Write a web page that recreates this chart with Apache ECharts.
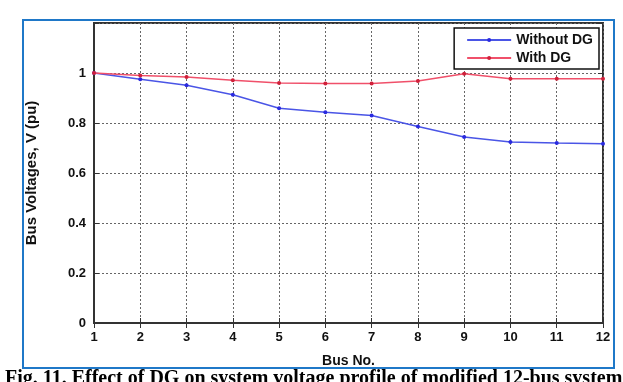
<!DOCTYPE html>
<html>
<head>
<meta charset="utf-8">
<script src="https://cdn.jsdelivr.net/npm/echarts@6/dist/echarts.min.js"></script>
<style>
html,body{margin:0;padding:0;background:#fff;}
#c{width:623px;height:382px;}
</style>
</head>
<body>
<div id="c"></div>
<script>
var buses = ['1','2','3','4','5','6','7','8','9','10','11','12'];
var withoutDG = [1.000, 0.975, 0.951, 0.913, 0.859, 0.843, 0.830, 0.786, 0.744, 0.724, 0.720, 0.717];
var withDG    = [1.000, 0.990, 0.984, 0.971, 0.960, 0.958, 0.958, 0.968, 0.997, 0.977, 0.977, 0.977];
var yTicks = [0, 0.2, 0.4, 0.6, 0.8, 1];
var caption = 'Fig. 11. Effect of DG on system voltage profile of modified 12-bus system';

var chart = echarts.init(document.getElementById('c'), null, {renderer: 'canvas'});
var labelFont = {fontFamily: 'Liberation Sans, Arial', fontWeight: 'bold', fontSize: 13, color: '#111'};
var gridLine = {show: true, lineStyle: {color: '#666', type: [2, 2], width: 1}};

chart.setOption({
  animation: false,
  backgroundColor: '#fff',
  grid: {left: 94, right: 20, top: 23, bottom: 59, show: true, borderColor: '#333', borderWidth: 2, backgroundColor: '#fff'},
  legend: {
    right: 24, top: 28,
    orient: 'vertical',
    backgroundColor: '#fff',
    borderColor: '#111', borderWidth: 1.5, borderRadius: 0,
    padding: [5, 6, 4, 12],
    itemGap: 4,
    itemWidth: 44, itemHeight: 5,
    textStyle: {fontFamily: 'Liberation Sans, Arial', fontWeight: 'bold', fontSize: 14, color: '#111'},
    data: ['Without DG', 'With DG']
  },
  xAxis: [{
    type: 'category', data: buses, boundaryGap: false,
    name: 'Bus No.', nameLocation: 'middle', nameGap: 31,
    nameTextStyle: {fontFamily: 'Liberation Sans, Arial', fontWeight: 'bold', fontSize: 14, color: '#111'},
    axisLine: {show: true, lineStyle: {color: '#333', width: 2}},
    axisTick: {show: true, inside: true, length: 5, lineStyle: {color: '#333'}},
    axisLabel: Object.assign({margin: 8, interval: 0}, labelFont),
    splitLine: {show: true, interval: 0, lineStyle: {color: '#666', type: [2, 2], width: 1}}
  }, {
    type: 'category', data: buses, boundaryGap: false, position: 'top',
    axisLine: {show: false}, axisLabel: {show: false},
    axisTick: {show: true, inside: true, length: 5, interval: 0, lineStyle: {color: '#333'}},
    splitLine: {show: false}
  }],
  yAxis: [{
    type: 'value', min: 0, max: 1.2, interval: 0.2,
    name: 'Bus Voltages, V (pu)', nameLocation: 'middle', nameGap: 55,
    nameTextStyle: {fontFamily: 'Liberation Sans, Arial', fontWeight: 'bold', fontSize: 15, color: '#111'},
    axisLine: {show: true, lineStyle: {color: '#333', width: 2}},
    axisTick: {show: true, inside: true, length: 5, lineStyle: {color: '#333'}},
    axisLabel: Object.assign({margin: 8, formatter: function (v) {
      for (var i = 0; i < yTicks.length; i++) { if (Math.abs(yTicks[i] - v) < 1e-9) return String(yTicks[i]); }
      return '';
    }}, labelFont),
    splitLine: gridLine
  }, {
    type: 'value', min: 0, max: 1.2, interval: 0.2, position: 'right',
    axisLine: {show: false}, axisLabel: {show: false},
    axisTick: {show: true, inside: true, length: 5, lineStyle: {color: '#333'}},
    splitLine: {show: false}
  }],
  series: [{
    name: 'Without DG', type: 'line', data: withoutDG,
    symbol: 'circle', symbolSize: 4, showSymbol: true,
    itemStyle: {color: '#2a2ae0'},
    lineStyle: {color: '#4a55e6', width: 1.5},
    z: 3
  }, {
    name: 'With DG', type: 'line', data: withDG,
    symbol: 'circle', symbolSize: 4, showSymbol: true,
    itemStyle: {color: '#d0203a'},
    lineStyle: {color: '#f0506a', width: 1.3},
    z: 4
  }],
  graphic: [{
    type: 'rect', silent: true, z: 100,
    shape: {x: 23, y: 20, width: 591, height: 348},
    style: {fill: 'none', stroke: '#1f78c8', lineWidth: 2}
  }, {
    type: 'text', silent: true, z: 100, left: 5, top: 369,
    style: {text: caption, fill: '#000', font: 'bold 20px "Liberation Serif", "Times New Roman", serif'}
  }]
});
</script>
</body>
</html>
